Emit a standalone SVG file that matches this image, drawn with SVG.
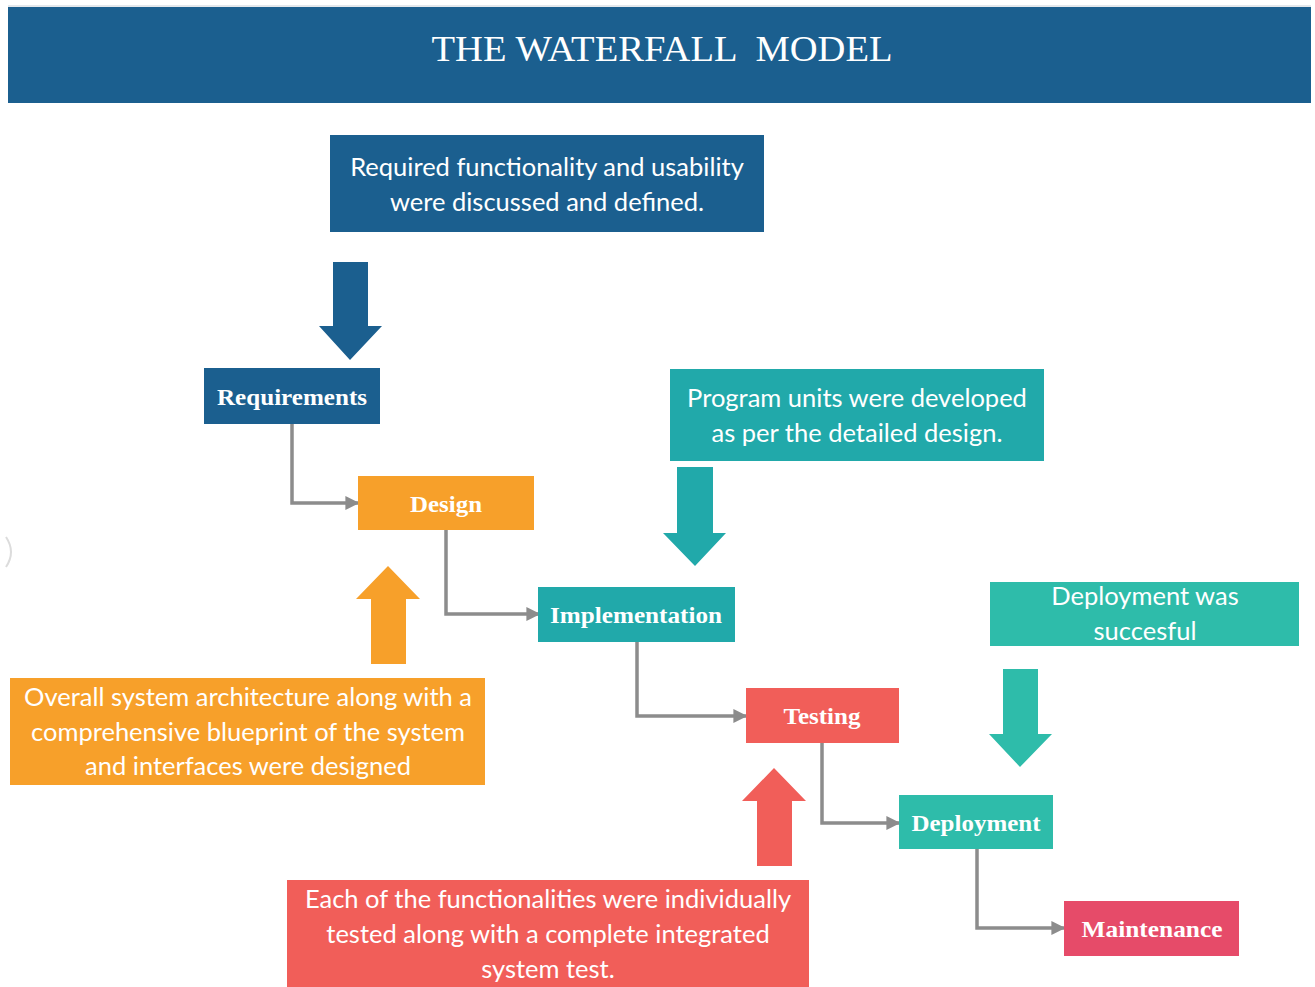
<svg xmlns="http://www.w3.org/2000/svg" width="1315" height="987" viewBox="0 0 1315 987">
  <style>
    .note { font-family: Lato, "Open Sans", "Liberation Sans", sans-serif; font-size: 25.5px; fill: #ffffff; text-anchor: middle; }
    .label { font-family: "Liberation Serif", "DejaVu Serif", serif; font-weight: bold; font-size: 23px; fill: #ffffff; text-anchor: middle; dominant-baseline: central; }
    .wire { fill: none; stroke: #8c8c8c; stroke-width: 3.5; marker-end: url(#tip); }
    .blue { fill: #1b5f8f; }
    .orange { fill: #f7a02a; }
    .teal { fill: #21a9aa; }
    .green { fill: #2ebcaa; }
    .red { fill: #f15e59; }
    .pink { fill: #e64b69; }
  </style>
  <defs>
    <marker id="tip" viewBox="0 0 10 10" refX="9" refY="5" markerWidth="4" markerHeight="4" orient="auto" markerUnits="strokeWidth">
      <path d="M0,0 L10,5 L0,10 z" fill="#8c8c8c"/>
    </marker>
  </defs>

  <rect width="1315" height="987" fill="#ffffff"/>

  <!-- header band -->
  <g id="header">
    <rect x="8" y="5" width="1303" height="2" fill="#e4e8ec"/>
    <rect x="8" y="7" width="1303" height="96" class="blue"/>
    <text x="662" y="61" font-family="'Liberation Serif', 'DejaVu Serif', serif" font-size="36" fill="#ffffff" text-anchor="middle" textLength="461" lengthAdjust="spacingAndGlyphs" xml:space="preserve">THE WATERFALL  MODEL</text>
  </g>

  <!-- faint partial mark at the left edge -->
  <path d="M6,537 Q16,552 6,567" fill="none" stroke="#dcdcdc" stroke-width="2"/>

  <!-- connectors between the phases -->
  <g id="connectors">
    <path class="wire" d="M292,424 V503 H358"/>
    <path class="wire" d="M446,529 V614 H539"/>
    <path class="wire" d="M637,642 V716 H746"/>
    <path class="wire" d="M822,743 V823 H899"/>
    <path class="wire" d="M977,849 V928 H1064"/>
  </g>

  <!-- requirements note and arrow -->
  <g id="note-requirements">
    <rect x="330" y="135" width="434" height="97" class="blue"/>
    <text class="note" x="547" y="176">Required functionality and usability</text>
    <text class="note" x="547" y="211">were discussed and defined.</text>
  </g>
  <g id="arrow-requirements">
    <path class="blue" d="M333,262 H368 V326 H382 L350,360 L319,326 H333 Z"/>
  </g>

  <g id="requirements">
    <rect x="204" y="368" width="176" height="56" class="blue"/>
    <text class="label" x="292" y="397" textLength="150" lengthAdjust="spacingAndGlyphs">Requirements</text>
  </g>

  <g id="design">
    <rect x="358" y="476" width="176" height="54" class="orange"/>
    <text class="label" x="446" y="504" textLength="72" lengthAdjust="spacingAndGlyphs">Design</text>
  </g>

  <!-- design note and arrow -->
  <g id="arrow-design">
    <path class="orange" d="M371,664 V599 H356 L388,566 L420,599 H406 V664 Z"/>
  </g>
  <g id="note-design">
    <rect x="10" y="678" width="475" height="107" class="orange"/>
    <text class="note" x="248" y="706">Overall system architecture along with a</text>
    <text class="note" x="248" y="741">comprehensive blueprint of the system</text>
    <text class="note" x="248" y="775">and interfaces were designed</text>
  </g>

  <!-- implementation note and arrow -->
  <g id="note-implementation">
    <rect x="670" y="369" width="374" height="92" class="teal"/>
    <text class="note" x="857" y="407">Program units were developed</text>
    <text class="note" x="857" y="442">as per the detailed design.</text>
  </g>
  <g id="arrow-implementation">
    <path class="teal" d="M677,467 H713 V533 H726 L695,566 L663,533 H677 Z"/>
  </g>

  <g id="implementation">
    <rect x="538" y="587" width="197" height="55" class="teal"/>
    <text class="label" x="636" y="615" textLength="172" lengthAdjust="spacingAndGlyphs">Implementation</text>
  </g>

  <g id="testing">
    <rect x="746" y="688" width="153" height="55" class="red"/>
    <text class="label" x="822" y="716" textLength="77" lengthAdjust="spacingAndGlyphs">Testing</text>
  </g>

  <!-- testing note and arrow -->
  <g id="arrow-testing">
    <path class="red" d="M757,866 V801 H742 L774,768 L806,801 H792 V866 Z"/>
  </g>
  <g id="note-testing">
    <rect x="287" y="880" width="522" height="107" class="red"/>
    <text class="note" x="548" y="908">Each of the functionalities were individually</text>
    <text class="note" x="548" y="943">tested along with a complete integrated</text>
    <text class="note" x="548" y="978">system test.</text>
  </g>

  <!-- deployment note and arrow -->
  <g id="note-deployment">
    <rect x="990" y="582" width="309" height="64" class="green"/>
    <text class="note" x="1145" y="605">Deployment was</text>
    <text class="note" x="1145" y="640">succesful</text>
  </g>
  <g id="arrow-deployment">
    <path class="green" d="M1003,669 H1038 V734 H1052 L1020,767 L989,734 H1003 Z"/>
  </g>

  <g id="deployment">
    <rect x="899" y="795" width="154" height="54" class="green"/>
    <text class="label" x="976" y="823" textLength="129" lengthAdjust="spacingAndGlyphs">Deployment</text>
  </g>

  <g id="maintenance">
    <rect x="1064" y="901" width="175" height="55" class="pink"/>
    <text class="label" x="1152" y="929" textLength="141" lengthAdjust="spacingAndGlyphs">Maintenance</text>
  </g>
</svg>
